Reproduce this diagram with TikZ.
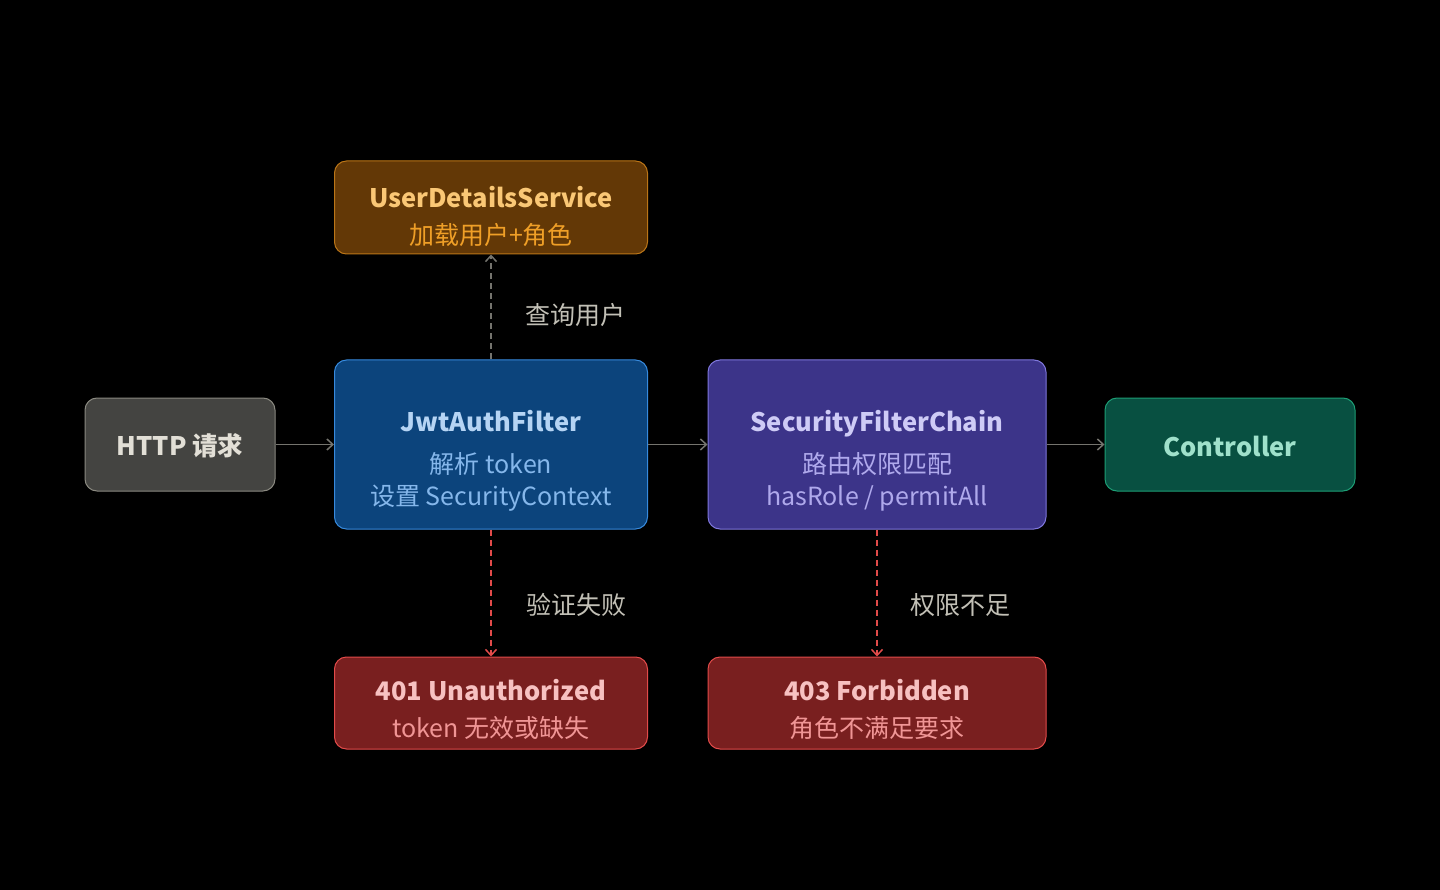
\documentclass[tikz,border=0pt]{standalone}
\usepackage{fontspec}
\setmainfont{Noto Sans CJK SC}
\usetikzlibrary{arrows.meta}
\definecolor{bg}{HTML}{000000}
\definecolor{grayfill}{HTML}{444441}
\definecolor{grayline}{HTML}{8A8980}
\definecolor{graytext}{HTML}{E2DFD6}
\definecolor{ambfill}{HTML}{633806}
\definecolor{ambline}{HTML}{BA7517}
\definecolor{ambtitle}{HTML}{FAC775}
\definecolor{ambsub}{HTML}{EF9F27}
\definecolor{bluefill}{HTML}{0C447C}
\definecolor{blueline}{HTML}{378ADD}
\definecolor{bluetitle}{HTML}{B5D4F4}
\definecolor{bluesub}{HTML}{85B7EB}
\definecolor{purfill}{HTML}{3C3489}
\definecolor{purline}{HTML}{7F77DD}
\definecolor{purtitle}{HTML}{CECBF6}
\definecolor{pursub}{HTML}{AFA9EC}
\definecolor{tealfill}{HTML}{085041}
\definecolor{tealline}{HTML}{1D9E75}
\definecolor{tealtitle}{HTML}{9FE1CB}
\definecolor{redfill}{HTML}{791F1F}
\definecolor{redline}{HTML}{E24B4A}
\definecolor{redtitle}{HTML}{F7C1C1}
\definecolor{redsub}{HTML}{F09595}
\definecolor{arrowgray}{HTML}{75746E}
\definecolor{labelgray}{HTML}{C2C0B6}
\begin{document}
\begin{tikzpicture}[x=1pt,y=-1pt,
  box/.style={draw, rounded corners=12pt, line width=1pt, inner sep=0pt},
  titletext/.style={font=\fontsize{25.5}{30}\selectfont\bfseries, inner sep=0pt},
  subtext/.style={font=\fontsize{25}{30}\selectfont, inner sep=0pt},
  lbl/.style={font=\fontsize{25}{30}\selectfont, text=labelgray, inner sep=0pt},
  flow/.style={draw=arrowgray, line width=1.5pt, -{Straight Barb[length=6pt,width=11pt,line width=1.5pt]}},
  query/.style={flow, dash pattern=on 6pt off 4pt},
  fail/.style={draw=redline, line width=1.5pt, dash pattern=on 6pt off 4pt, -{Straight Barb[length=6pt,width=11pt,line width=1.5pt]}}
]
\useasboundingbox (0,0) rectangle (1440,890);
\fill[bg] (0,0) rectangle (1440,890);

% boxes
\node[box, fill=grayfill, draw=grayline, minimum width=190pt, minimum height=93pt] (http) at (180,444.5) {};
\node[box, fill=ambfill, draw=ambline, minimum width=313pt, minimum height=93pt] (uds) at (491,207.5) {};
\node[box, fill=bluefill, draw=blueline, minimum width=313pt, minimum height=169pt] (jwt) at (491,444.5) {};
\node[box, fill=purfill, draw=purline, minimum width=338pt, minimum height=169pt] (sfc) at (877,444.5) {};
\node[box, fill=tealfill, draw=tealline, minimum width=250pt, minimum height=93pt] (ctrl) at (1230,444.5) {};
\node[box, fill=redfill, draw=redline, minimum width=313pt, minimum height=92pt] (e401) at (491,703) {};
\node[box, fill=redfill, draw=redline, minimum width=338pt, minimum height=92pt] (e403) at (877,703) {};

% texts
\node[titletext, text=graytext] (httpT) at (180,446) {HTTP 请求};
\node[titletext, text=ambtitle] (udsT) at (491,197) {UserDetailsService};
\node[subtext, text=ambsub] (udsS) at (491,235) {加载用户+角色};
\node[titletext, text=bluetitle] (jwtT) at (491,421) {JwtAuthFilter};
\node[subtext, text=bluesub] (jwtS1) at (491,464) {解析 token};
\node[subtext, text=bluesub] (jwtS2) at (491,498) {设置 SecurityContext};
\node[titletext, text=purtitle, text depth=0pt] (sfcT) at (877,421) {SecurityFilterChain};
\node[subtext, text=pursub] (sfcS1) at (877,464) {路由权限匹配};
\node[subtext, text=pursub] (sfcS2) at (877,498) {hasRole / permitAll};
\node[titletext, text=tealtitle] (ctrlT) at (1230,446) {Controller};
\node[titletext, text=redtitle] (e401T) at (491,690) {401 Unauthorized};
\node[subtext, text=redsub] (e401S) at (491,728) {token 无效或缺失};
\node[titletext, text=redtitle] (e403T) at (877,690) {403 Forbidden};
\node[subtext, text=redsub] (e403S) at (877,728) {角色不满足要求};

% connectors
\draw[flow] (http.east) -- (jwt.west);
\draw[flow] (jwt.east) -- (sfc.west);
\draw[flow] (sfc.east) -- (ctrl.west);
\draw[query] (jwt.north) -- (uds.south);
\draw[fail] (jwt.south) -- (e401.north);
\draw[fail] (sfc.south) -- (e403.north);

% labels
\node[lbl] (lq) at (575,315) {查询用户};
\node[lbl] (lf) at (576,605) {验证失败};
\node[lbl] (lp) at (960,605) {权限不足};
\end{tikzpicture}
\end{document}
